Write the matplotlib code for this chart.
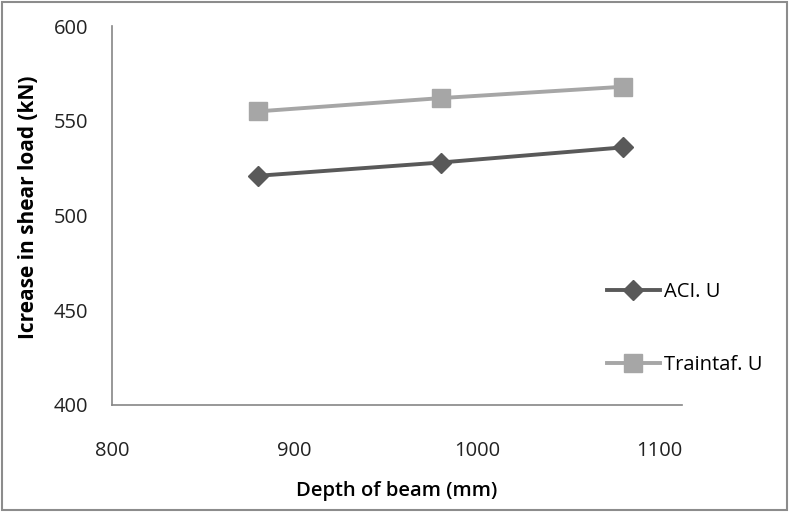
import matplotlib.pyplot as plt
from matplotlib.patches import Rectangle

# данные
depth = [880, 980, 1080]
aci_u = [521, 528, 536]
traintaf_u = [555, 562, 568]
x_ticks = [800, 900, 1000, 1100]
y_ticks = [400, 450, 500, 550, 600]

plt.rcParams['font.family'] = ['Open Sans', 'DejaVu Sans']

fig = plt.figure(figsize=(7.89, 5.12), dpi=100)
ax = fig.add_axes([0.142, 0.209, 0.722, 0.740])

ax.plot(depth, aci_u, color='#595959', lw=2.8, marker='D', ms=10,
        label='ACI. U')
ax.plot(depth, traintaf_u, color='#a6a6a6', lw=2.8, marker='s', ms=13,
        label='Traintaf. U')

ax.set_xlim(800, 1112)
ax.set_ylim(400, 600)
ax.set_xticks(x_ticks)
ax.set_yticks(y_ticks)
ax.tick_params(length=0, labelsize=14.5, colors='#222222')
ax.tick_params(axis='y', pad=17)
ax.tick_params(axis='x', pad=26)

for side in ['top', 'right']:
    ax.spines[side].set_visible(False)
for side in ['left', 'bottom']:
    ax.spines[side].set_color('#868686')
    ax.spines[side].set_linewidth(1.2)

ax.set_xlabel('Depth of beam (mm)', fontsize=14.5, fontweight='semibold',
              labelpad=14)
ax.set_ylabel('Icrease in shear load (kN)', fontsize=15, fontweight='bold')
ax.yaxis.set_label_coords(-0.128, 0.522)

ax.legend(loc='upper left', bbox_to_anchor=(0.855, 0.345), frameon=False,
          fontsize=14.5, handlelength=2.6, labelspacing=2.6, handletextpad=0.2,
          borderaxespad=0)

# рамка вокруг всей картинки
fig.patches.append(Rectangle((0.003, 0.004), 0.994, 0.992, fill=False,
                             edgecolor='#8c8c8c', lw=1.5,
                             transform=fig.transFigure))

fig.savefig('out.png', dpi=100)
